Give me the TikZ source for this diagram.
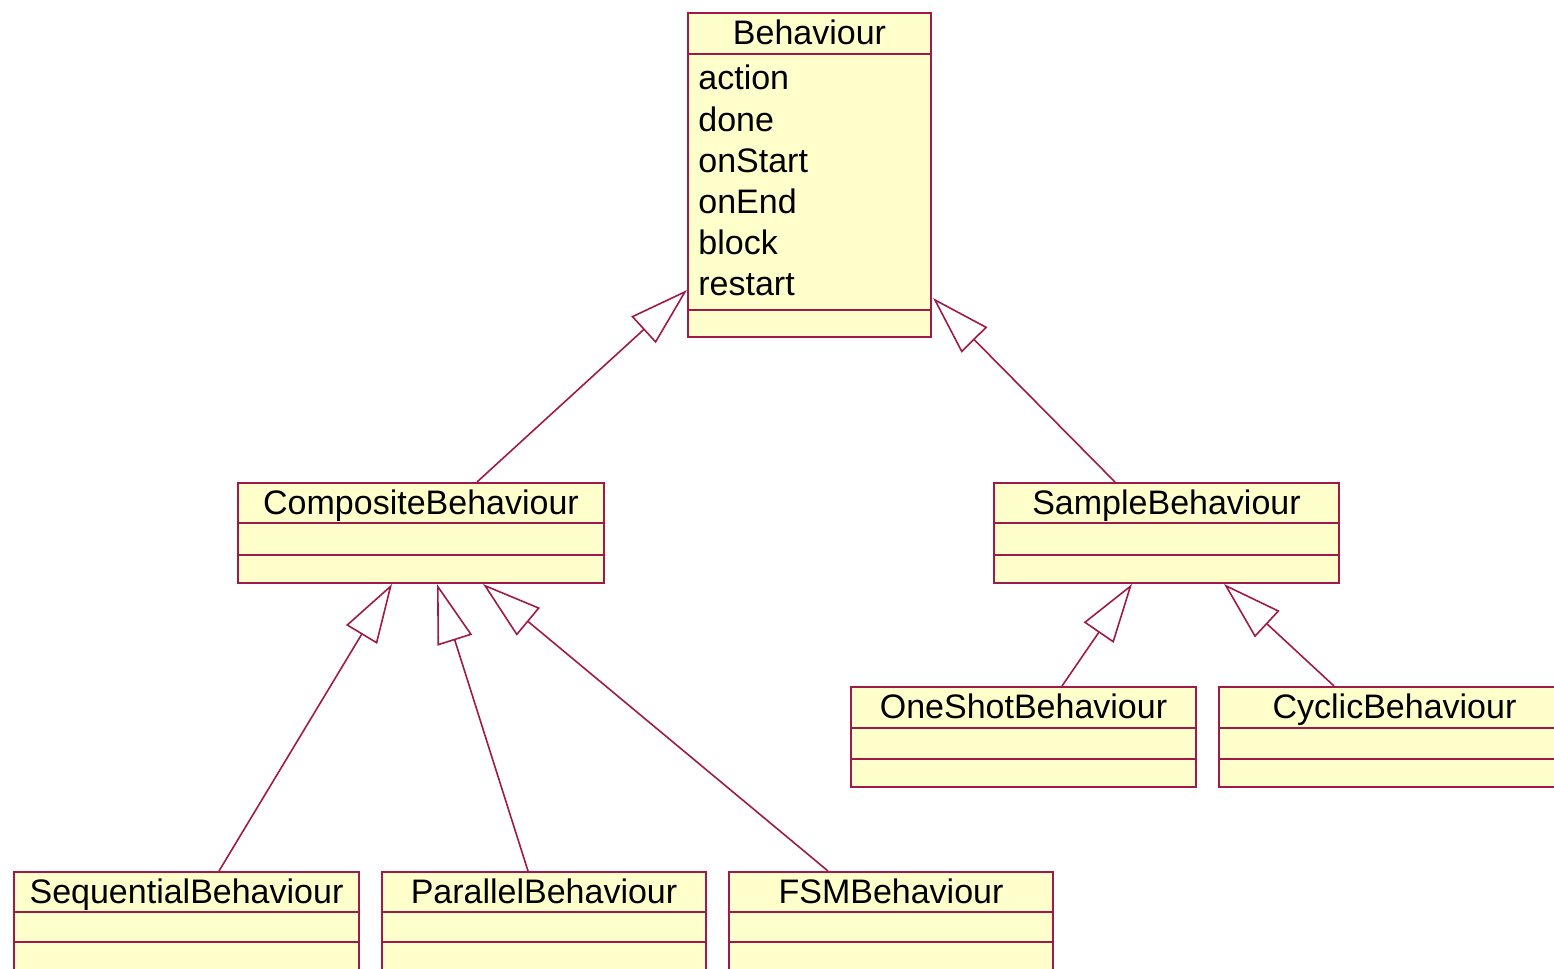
\documentclass[tikz,border=0pt]{standalone}
\usepackage{fontspec}
\setmainfont{Liberation Sans}
\usetikzlibrary{arrows.meta,calc,fit}

\definecolor{umlred}{RGB}{160,25,75}
\definecolor{umlfill}{RGB}{255,255,204}

\tikzset{
  classbox/.style={draw=umlred, fill=umlfill, line width=1pt, inner sep=0pt},
  sepline/.style={draw=umlred, line width=1pt},
  classtext/.style={font=\fontsize{17}{20}\selectfont, inner sep=0pt, text=black},
  inherit/.style={draw=umlred, line width=0.8pt,
    -{Triangle[length=29.5pt,width=18pt,fill=white]}},
}

% name, x1, y1, x2, y2, first separator, second separator, title
\newcommand\umlclass[8]{%
  \node[classbox, fit={(#2,#3) (#4,#5)}] (#1) {};
  \draw[sepline] (#2,#6) -- (#4,#6);
  \draw[sepline] (#2,#7) -- (#4,#7);
  \node[classtext, anchor=base] (#1-title) at ({(#2+#4)/2},{#3+31}) {#8};
}

\begin{document}
\begin{tikzpicture}[x=0.5pt,y=-0.5pt]
\useasboundingbox (0,0) rectangle (1554,969);

% classes
\umlclass{beh}{688}{13}{931}{337}{54}{310}{Behaviour}
\umlclass{comp}{238}{483}{604}{583}{523}{555}{CompositeBehaviour}
\umlclass{samp}{994}{483}{1339}{583}{523}{555}{SampleBehaviour}
\umlclass{one}{851}{687}{1196}{787}{728}{759}{OneShotBehaviour}
\umlclass{cyc}{1219}{687}{1570}{787}{728}{759}{CyclicBehaviour}
\umlclass{seq}{14}{872}{359}{1000}{912}{942}{SequentialBehaviour}
\umlclass{par}{382}{872}{706}{1000}{912}{942}{ParallelBehaviour}
\umlclass{fsm}{729}{872}{1053}{1000}{912}{942}{FSMBehaviour}

% attributes of Behaviour
\foreach \t [count=\i from 0] in {action,done,onStart,onEnd,block,restart}
  \node[classtext, anchor=base west] (beh-attr-\i) at (698,{90+41*\i}) {\t};

% generalisations
\draw[inherit] ($(comp.north west)+(240,0)$) -- ($(beh.north west)+(0,278)$);
\draw[inherit] ($(samp.north west)+(122,0)$) -- ($(beh.north east)+(1,286)$);
\draw[inherit] ($(seq.north west)+(206,0)$) -- ($(comp.south west)+(155,0)$);
\draw[inherit] ($(par.north west)+(147,0)$) -- ($(comp.south west)+(200,0)$);
\draw[inherit] ($(fsm.north west)+(100,0)$) -- ($(comp.south west)+(246,0)$);
\draw[inherit] ($(one.north west)+(212,0)$) -- ($(samp.south west)+(139,0)$);
\draw[inherit] ($(cyc.north west)+(116,0)$) -- ($(samp.south west)+(231,0)$);
\end{tikzpicture}
\end{document}
